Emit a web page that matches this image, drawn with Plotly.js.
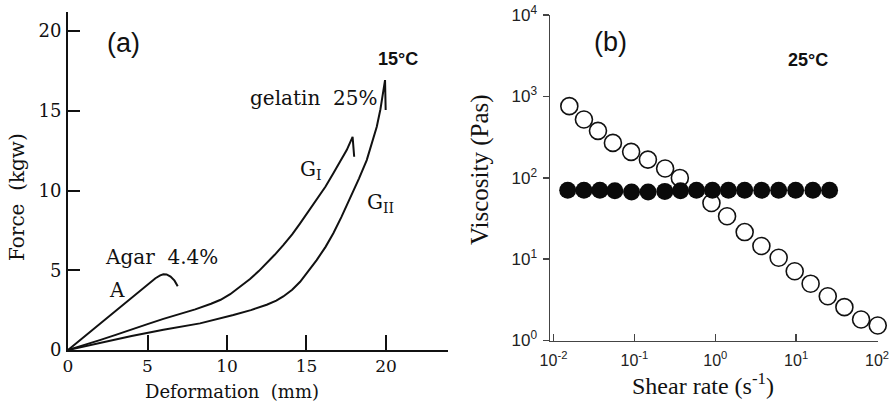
<!DOCTYPE html>
<html>
<head>
<meta charset="utf-8">
<script src="https://cdn.plot.ly/plotly-3.0.1.min.js"></script>
<style>html,body{margin:0;padding:0;background:#fff}#chart{width:890px;height:401px}</style>
</head>
<body>
<div id="chart"></div>
<script>
// ---- Panel (a): force (kgw) vs deformation (mm) ----
const agarX = [0, 1, 2, 3, 4, 5, 5.5, 5.8, 6.0, 6.2, 6.45, 6.7, 6.9];
const agarY = [0, 0.82, 1.65, 2.47, 3.3, 4.1, 4.5, 4.68, 4.75, 4.74, 4.6, 4.35, 4.0];

const g1X = [0, 1, 2, 3, 4, 5, 6, 7, 8, 9, 9.6, 10.2, 10.8, 11.45, 12, 12.5, 13, 13.54, 14.1, 14.6, 15.1, 15.64, 16.2, 16.69, 17.1, 17.53, 17.9, 18.0];
const g1Y = [0, 0.3, 0.62, 0.95, 1.3, 1.62, 1.95, 2.25, 2.55, 2.9, 3.15, 3.5, 3.95, 4.45, 4.95, 5.43, 5.97, 6.58, 7.25, 7.94, 8.65, 9.4, 10.25, 11.08, 11.8, 12.54, 13.37, 12.12];

const g2X = [0, 2, 4, 6, 8.3, 10.4, 11.5, 12.5, 13.1, 13.54, 14.1, 14.6, 15.1, 15.64, 16.2, 16.69, 17.2, 17.74, 18.3, 18.79, 19.1, 19.42, 19.65, 19.79, 19.94, 19.98];
const g2Y = [0, 0.45, 0.88, 1.27, 1.67, 2.19, 2.5, 2.84, 3.1, 3.36, 3.78, 4.28, 4.9, 5.64, 6.47, 7.32, 8.35, 9.51, 10.75, 11.91, 12.9, 14.0, 15.1, 15.88, 16.93, 15.05];

const forceTicks = [0, 5, 10, 15, 20];
const deformTicks = [0, 5, 10, 15, 20];

// ---- Panel (b): viscosity (Pas) vs shear rate (1/s) ----
const openRate = [0.0157, 0.0238, 0.0355, 0.0543, 0.0912, 0.147, 0.24, 0.365, 0.897, 1.40, 2.31, 3.72, 6.08, 9.6, 15.1, 24.6, 39.5, 63.5, 102];
const openVisc = [758, 520, 377, 268, 208, 167, 130, 99.5, 49, 33.6, 21.5, 14.5, 10.4, 7.1, 4.99, 3.5, 2.57, 1.81, 1.53];

const filledRate = [0.015, 0.0238, 0.0375, 0.0574, 0.0923, 0.148, 0.238, 0.372, 0.586, 0.923, 1.456, 2.31, 3.75, 6.08, 9.86, 16.1, 25.9];
const filledVisc = [70, 70, 70, 69, 67, 67, 68, 69, 70, 70, 70, 70, 70, 70, 70, 70, 70];

const rateTicks = [0.01, 0.1, 1, 10, 100];
const rateTickText = ['10<sup>-2</sup>', '10<sup>-1</sup>', '10<sup>0</sup>', '10<sup>1</sup>', '10<sup>2</sup>'];
const viscTicks = [1, 10, 100, 1000, 10000];
const viscTickText = ['10<sup>0</sup>', '10<sup>1</sup>', '10<sup>2</sup>', '10<sup>3</sup>', '10<sup>4</sup>'];

const W = 890, H = 401;
const fx = p => p / W;
const fy = p => 1 - p / H;

const lineStyle = {color: '#111', width: 2, shape: 'linear'};

const traces = [
  {x: agarX, y: agarY, mode: 'lines', line: lineStyle, xaxis: 'x', yaxis: 'y', name: 'Agar 4.4%'},
  {x: g1X, y: g1Y, mode: 'lines', line: lineStyle, xaxis: 'x', yaxis: 'y', name: 'G I'},
  {x: g2X, y: g2Y, mode: 'lines', line: lineStyle, xaxis: 'x', yaxis: 'y', name: 'G II'},
  {x: openRate, y: openVisc, mode: 'markers', xaxis: 'x2', yaxis: 'y2', name: 'open', cliponaxis: false,
   marker: {symbol: 'circle-open', size: 17, color: '#111', line: {width: 1.6, color: '#111'}}},
  {x: filledRate, y: filledVisc, mode: 'markers', xaxis: 'x2', yaxis: 'y2', name: 'filled',
   marker: {symbol: 'circle', size: 17, color: '#0a0a0a'}}
];

const serifL = 'DejaVu Serif, Liberation Serif, serif';
const serifR = 'Liberation Serif, Times New Roman, serif';
const sans = 'Liberation Sans, Arial, sans-serif';

const layout = {
  width: W, height: H,
  margin: {l: 0, r: 0, t: 0, b: 0},
  paper_bgcolor: '#fff', plot_bgcolor: 'rgba(0,0,0,0)',
  showlegend: false,
  xaxis: {
    domain: [fx(68), fx(448)], range: [0, 23.9], anchor: 'y',
    tickvals: deformTicks, ticks: 'inside', ticklen: 15, tickwidth: 2, tickcolor: '#111',
    showline: true, linewidth: 2, linecolor: '#111', showgrid: false, zeroline: false,
    tickfont: {family: serifL, size: 17, color: '#111'}, ticklabelstandoff: 0
  },
  yaxis: {
    domain: [fy(350), fy(12)], range: [0, 21.2], anchor: 'x',
    tickvals: forceTicks, ticks: 'inside', ticklen: 12, tickwidth: 2, tickcolor: '#111',
    showline: true, linewidth: 2, linecolor: '#111', showgrid: false, zeroline: false,
    tickfont: {family: serifL, size: 18, color: '#111'}, ticklabelstandoff: 1
  },
  xaxis2: {
    domain: [fx(550), fx(878)], type: 'log', range: [-2.043, 2.012], anchor: 'y2',
    tickvals: rateTicks, ticktext: rateTickText, ticks: 'inside', ticklen: 7, tickwidth: 1.5, tickcolor: '#444',
    showline: true, linewidth: 1.5, linecolor: '#444', showgrid: false, zeroline: false,
    tickfont: {family: sans, size: 16, color: '#222'}, ticklabelstandoff: 5, ticklabeloverflow: 'allow'
  },
  yaxis2: {
    domain: [fy(340.5), fy(15)], type: 'log', range: [0, 4], anchor: 'x2',
    tickvals: viscTicks, ticktext: viscTickText, ticks: 'outside', ticklen: 6, tickwidth: 1.5, tickcolor: '#444',
    showline: true, linewidth: 1.5, linecolor: '#444', showgrid: false, zeroline: false,
    tickfont: {family: sans, size: 17, color: '#222'}, ticklabelstandoff: 2
  },
  annotations: [
    // axis titles
    {text: 'Force\u00a0 (kgw)', x: fx(17), y: fy(197), textangle: -90, font: {family: serifL, size: 20, color: '#111'}},
    {text: 'Deformation\u00a0 (mm)', x: fx(232), y: fy(391), font: {family: serifL, size: 18, color: '#111'}},
    {text: 'Viscosity (Pas)', x: fx(480), y: fy(170), textangle: -90, font: {family: serifR, size: 25, color: '#111'}},
    {text: 'Shear rate (s<sup>-1</sup>)', x: fx(703), y: fy(384), font: {family: serifR, size: 24, color: '#111'}},
    // panel labels and notes
    {text: '(a)', x: fx(123), y: fy(43), font: {family: sans, size: 27, color: '#111'}},
    {text: '(b)', x: fx(610), y: fy(42), font: {family: sans, size: 27, color: '#111'}},
    {text: '<b>15°C</b>', x: fx(398), y: fy(59), font: {family: sans, size: 18, color: '#111'}},
    {text: '<b>25°C</b>', x: fx(808), y: fy(60), font: {family: sans, size: 18, color: '#111'}},
    {text: 'gelatin\u00a0 25%', x: fx(313), y: fy(98), font: {family: serifL, size: 20, color: '#111'}},
    {text: 'Agar\u00a0 4.4%', x: fx(161), y: fy(257), font: {family: serifL, size: 20, color: '#111'}},
    {text: 'A', x: fx(117), y: fy(290), font: {family: serifL, size: 20, color: '#111'}},
    {text: 'G<sub>I</sub>', x: fx(311), y: fy(170), font: {family: serifL, size: 20, color: '#111'}},
    {text: 'G<sub>II</sub>', x: fx(380), y: fy(203), font: {family: serifL, size: 20, color: '#111'}}
  ].map(a => Object.assign({xref: 'paper', yref: 'paper', showarrow: false, xanchor: 'center', yanchor: 'middle'}, a))
};

Plotly.newPlot('chart', traces, layout, {displayModeBar: false, staticPlot: true});
</script>
</body>
</html>
